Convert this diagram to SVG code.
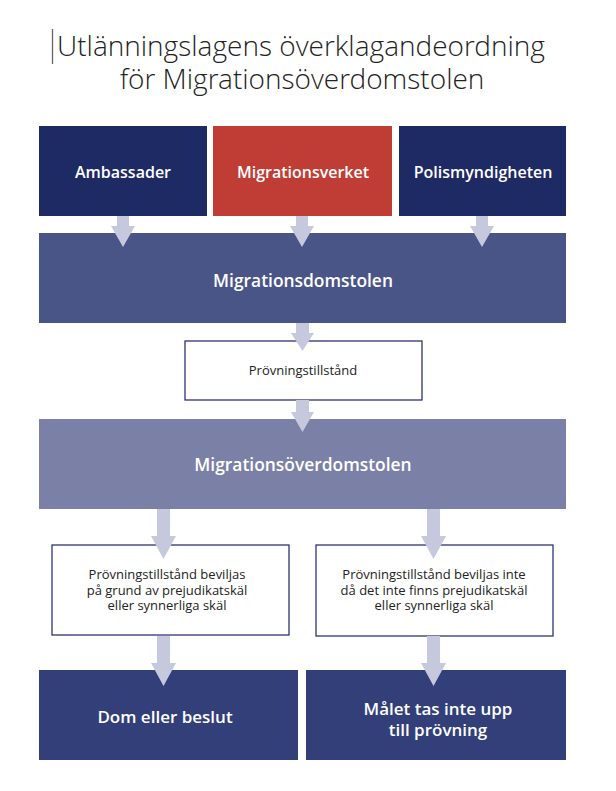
<svg xmlns="http://www.w3.org/2000/svg" width="616" height="791" viewBox="0 0 616 791">
<style>
.title{font-family:"Open Sans Light","Open Sans","Liberation Sans",sans-serif;font-weight:300;font-size:28px;fill:#222;text-anchor:middle}
.lbl{font-family:"Open Sans","Liberation Sans",sans-serif;font-weight:600;fill:#fff;text-anchor:middle}
.sm{font-family:"Open Sans","Liberation Sans",sans-serif;font-weight:400;font-size:13px;fill:#222;text-anchor:middle}
.wbox{fill:#fff;stroke:#2b3570;stroke-width:1.3}
.arr{fill:#c6c9de}
</style>
<rect width="616" height="791" fill="#fff"/>
<g id="title">
<line x1="52.5" y1="29" x2="52.5" y2="64" stroke="#666" stroke-width="1.3"/>
<text class="title" x="301" y="56">Utlänningslagens överklagandeordning</text>
<text class="title" x="302" y="89">för Migrationsöverdomstolen</text>
</g>
<g id="ambassader"><rect x="39" y="126" width="168" height="90" fill="#1e2a64"/><text class="lbl" x="123" y="178" font-size="16">Ambassader</text></g>
<g id="migrationsverket"><rect x="213" y="126" width="179" height="90" fill="#c03d36"/><text class="lbl" x="303" y="178" font-size="16">Migrationsverket</text></g>
<g id="polismyndigheten"><rect x="399" y="126" width="167" height="90" fill="#1e2a64"/><text class="lbl" x="483" y="178" font-size="16">Polismyndigheten</text></g>
<g id="migrationsdomstolen"><rect x="39" y="233" width="527" height="90" fill="#4a5587"/><text class="lbl" x="303" y="287" font-size="17.4">Migrationsdomstolen</text></g>
<g id="provningstillstand"><rect class="wbox" x="185" y="341" width="237" height="59"/><text class="sm" x="303" y="375">Prövningstillstånd</text></g>
<g id="migrationsoverdomstolen"><rect x="39" y="419" width="527" height="90" fill="#7b80a6"/><text class="lbl" x="303" y="471" font-size="17.4">Migrationsöverdomstolen</text></g>
<g id="beviljas"><rect class="wbox" x="52" y="545" width="237" height="90"/>
<text class="sm" x="167" y="579">Prövningstillstånd beviljas</text>
<text class="sm" x="167" y="594.5">på grund av prejudikatskäl</text>
<text class="sm" x="167" y="610">eller synnerliga skäl</text></g>
<g id="beviljasinte"><rect class="wbox" x="316" y="545" width="237" height="91"/>
<text class="sm" x="434" y="579">Prövningstillstånd beviljas inte</text>
<text class="sm" x="434" y="594.5">då det inte finns prejudikatskäl</text>
<text class="sm" x="434" y="610">eller synnerliga skäl</text></g>
<g id="dom"><rect x="39" y="670" width="259" height="90" fill="#323f78"/><text class="lbl" x="165" y="723" font-size="17">Dom eller beslut</text></g>
<g id="malet"><rect x="306" y="670" width="260" height="90" fill="#323f78"/><text class="lbl" x="438" y="715" font-size="17">Målet tas inte upp</text><text class="lbl" x="438" y="736" font-size="17">till prövning</text></g>
<g id="connectors" class="arr">
<path d="M117 216H129V226H135L123 247L111 226H117Z"/>
<path d="M296 216H308V226H314L302 247L290 226H296Z"/>
<path d="M476 216H488V226H494L482 247L470 226H476Z"/>
<path d="M296 323H309V333H314L302.5 351L291 333H296Z"/>
<path d="M296 400H309V412H314L302.5 432L291 412H296Z"/>
<path d="M157 509H170V536H176L163.5 559L151 536H157Z"/>
<path d="M427 509H440V536H446L433.5 559L421 536H427Z"/>
<path d="M157 636H170V663H176L163.5 686L151 663H157Z"/>
<path d="M427 636H440V663H446L433.5 686L421 663H427Z"/>
</g>
</svg>
